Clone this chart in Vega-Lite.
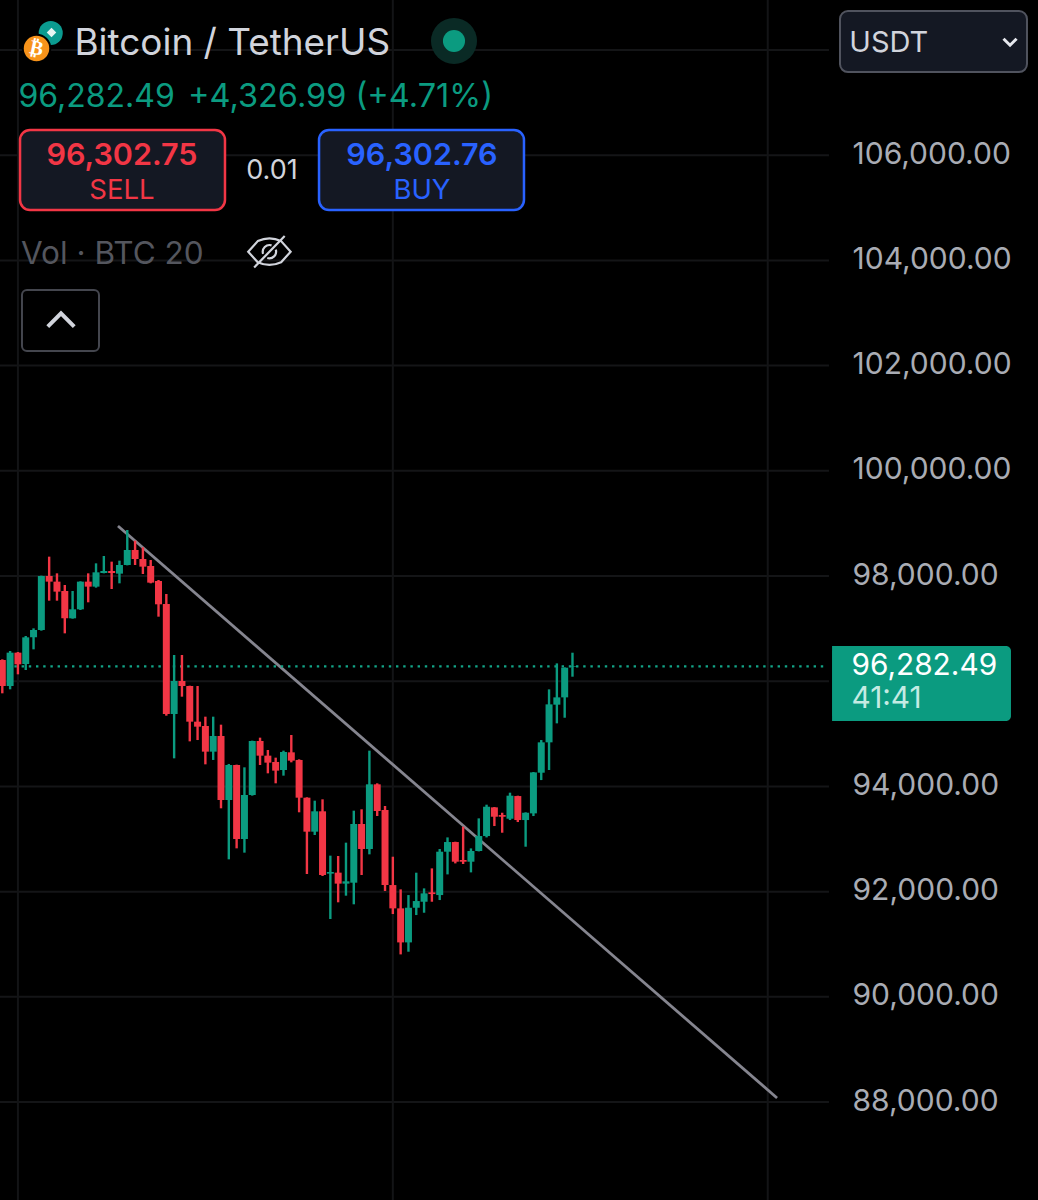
{
  "$schema": "https://vega.github.io/schema/vega-lite/v6.json",
  "autosize": {"type": "none"},
  "width": 1038,
  "height": 1200,
  "padding": 0,
  "background": "#000000",
  "config": {
    "font": "Inter",
    "view": {"stroke": null},
    "axis": {"title": null}
  },
  "data": {"values": [{}]},
  "resolve": {"axis": {"y": "independent"}},
  "datasets": {
    "levels": [
      {"price": 88000}, {"price": 90000}, {"price": 92000}, {"price": 94000}, {"price": 96000},
      {"price": 98000}, {"price": 100000}, {"price": 102000}, {"price": 104000}, {"price": 106000}, {"price": 108000}
    ],
    "sessions": [{"bar": 2}, {"bar": 50}, {"bar": 98}],
    "trendline": [{"bar": 14.81, "price": 98951}, {"bar": 99.19, "price": 88077}],
    "candles": [
      {"bar":0,"open":96403,"high":96416,"low":95770,"close":95909},
      {"bar":1,"open":95909,"high":96575,"low":95846,"close":96543},
      {"bar":2,"open":96543,"high":96555,"low":96131,"close":96321},
      {"bar":3,"open":96327,"high":96860,"low":96213,"close":96834},
      {"bar":4,"open":96834,"high":97005,"low":96606,"close":96974},
      {"bar":5,"open":96974,"high":98007,"low":96961,"close":98000},
      {"bar":6,"open":98000,"high":98368,"low":97531,"close":97893},
      {"bar":7,"open":97893,"high":98051,"low":97531,"close":97703},
      {"bar":8,"open":97715,"high":97829,"low":96910,"close":97196},
      {"bar":9,"open":97196,"high":97715,"low":97189,"close":97367},
      {"bar":10,"open":97367,"high":97899,"low":97354,"close":97893},
      {"bar":11,"open":97893,"high":98051,"low":97500,"close":97798},
      {"bar":12,"open":97798,"high":98241,"low":97779,"close":98070},
      {"bar":13,"open":98057,"high":98381,"low":98051,"close":98095},
      {"bar":14,"open":98095,"high":98273,"low":97753,"close":98057},
      {"bar":15,"open":98045,"high":98292,"low":97861,"close":98209},
      {"bar":16,"open":98209,"high":98875,"low":98203,"close":98495},
      {"bar":17,"open":98495,"high":98672,"low":98209,"close":98323},
      {"bar":18,"open":98323,"high":98545,"low":98038,"close":98178},
      {"bar":19,"open":98190,"high":98304,"low":97861,"close":97874},
      {"bar":20,"open":97905,"high":97924,"low":97227,"close":97462},
      {"bar":21,"open":97468,"high":97658,"low":95345,"close":95377},
      {"bar":22,"open":95377,"high":96499,"low":94534,"close":96004},
      {"bar":23,"open":96004,"high":96499,"low":95706,"close":95909},
      {"bar":24,"open":95909,"high":95915,"low":94857,"close":95231},
      {"bar":25,"open":95231,"high":95909,"low":94882,"close":95136},
      {"bar":26,"open":95149,"high":95326,"low":94420,"close":94661},
      {"bar":27,"open":94661,"high":95326,"low":94503,"close":94959},
      {"bar":28,"open":94959,"high":95174,"low":93584,"close":93742},
      {"bar":29,"open":93742,"high":94427,"low":92614,"close":94407},
      {"bar":30,"open":94407,"high":94414,"low":92823,"close":93001},
      {"bar":31,"open":93001,"high":94363,"low":92741,"close":93837},
      {"bar":32,"open":93837,"high":94870,"low":93825,"close":94864},
      {"bar":33,"open":94864,"high":94927,"low":94407,"close":94585},
      {"bar":34,"open":94585,"high":94693,"low":94249,"close":94452},
      {"bar":35,"open":94465,"high":94547,"low":94059,"close":94300},
      {"bar":36,"open":94312,"high":94680,"low":94205,"close":94655},
      {"bar":37,"open":94648,"high":94978,"low":94458,"close":94490},
      {"bar":38,"open":94503,"high":94515,"low":93508,"close":93786},
      {"bar":39,"open":93786,"high":93793,"low":92335,"close":93140},
      {"bar":40,"open":93140,"high":93729,"low":93077,"close":93527},
      {"bar":41,"open":93527,"high":93755,"low":92297,"close":92316},
      {"bar":42,"open":92342,"high":92684,"low":91480,"close":92373},
      {"bar":43,"open":92361,"high":92677,"low":91797,"close":92152},
      {"bar":44,"open":92152,"high":92931,"low":91923,"close":92196},
      {"bar":45,"open":92170,"high":93539,"low":91759,"close":93286},
      {"bar":46,"open":93286,"high":93565,"low":92316,"close":92811},
      {"bar":47,"open":92811,"high":94680,"low":92709,"close":94040},
      {"bar":48,"open":94040,"high":94059,"low":93438,"close":93533},
      {"bar":49,"open":93552,"high":93628,"low":92012,"close":92126},
      {"bar":50,"open":92125,"high":92664,"low":91574,"close":91682},
      {"bar":51,"open":91682,"high":92043,"low":90807,"close":91035},
      {"bar":52,"open":91035,"high":91935,"low":90858,"close":91694},
      {"bar":53,"open":91694,"high":92360,"low":91555,"close":91821},
      {"bar":54,"open":91808,"high":92062,"low":91599,"close":91967},
      {"bar":55,"open":91986,"high":92442,"low":91808,"close":91954},
      {"bar":56,"open":91935,"high":92810,"low":91840,"close":92759},
      {"bar":57,"open":92759,"high":93031,"low":92328,"close":92943},
      {"bar":58,"open":92943,"high":92949,"low":92537,"close":92569},
      {"bar":59,"open":92601,"high":93234,"low":92525,"close":92569},
      {"bar":60,"open":92569,"high":92822,"low":92366,"close":92772},
      {"bar":61,"open":92772,"high":93393,"low":92765,"close":93057},
      {"bar":62,"open":93057,"high":93653,"low":93031,"close":93614},
      {"bar":63,"open":93602,"high":93608,"low":93247,"close":93424},
      {"bar":64,"open":93456,"high":93500,"low":93120,"close":93424},
      {"bar":65,"open":93386,"high":93881,"low":93361,"close":93824},
      {"bar":66,"open":93817,"high":93824,"low":93323,"close":93361},
      {"bar":67,"open":93361,"high":93507,"low":92854,"close":93500},
      {"bar":68,"open":93488,"high":94274,"low":93437,"close":94267},
      {"bar":69,"open":94261,"high":94882,"low":94121,"close":94838},
      {"bar":70,"open":94838,"high":95845,"low":94312,"close":95560},
      {"bar":71,"open":95554,"high":96339,"low":95199,"close":95693},
      {"bar":72,"open":95693,"high":96263,"low":95306,"close":96257},
      {"bar":73,"open":96270,"high":96542,"low":96086,"close":96282.49}
    ]
  },
  "layer": [
    {
      "data": {"name": "levels"},
      "mark": {"type": "rule", "color": "#141517", "strokeWidth": 2},
      "encoding": {
        "x": {"datum": -0.2945, "type": "quantitative", "axis": null, "scale": {"domain": [-0.2945, 132.6], "nice": false, "zero": false, "padding": 0}},
        "x2": {"datum": 105.84},
        "y": {
          "field": "price",
          "type": "quantitative",
          "scale": {"domain": [86138, 108950], "nice": false, "zero": false, "padding": 0},
          "axis": {
            "orient": "right",
            "offset": -186,
            "values": [88000, 90000, 92000, 94000, 98000, 100000, 102000, 104000, 106000],
            "format": ",.2f",
            "grid": false,
            "domain": false,
            "ticks": false,
            "tickSize": 0,
            "labelPadding": 0,
            "labelOffset": -1,
            "labelFontSize": 30,
            "labelColor": "#a9acb4",
            "labelAlign": "left",
            "labelBaseline": "middle",
            "labelOverlap": false,
            "labelFlush": false
          }
        }
      }
    },
    {
      "data": {"name": "sessions"},
      "mark": {"type": "rule", "color": "#131416", "strokeWidth": 2},
      "encoding": {
        "x": {"field": "bar", "type": "quantitative", "axis": null}
      }
    },
    {
      "data": {"name": "trendline"},
      "mark": {"type": "line", "color": "#85858f", "strokeWidth": 2.8},
      "encoding": {
        "x": {"field": "bar", "type": "quantitative", "axis": null},
        "y": {"field": "price", "type": "quantitative", "axis": null}
      }
    },
    {
      "mark": {"type": "rule", "color": "#12a487", "strokeWidth": 2.2, "strokeDash": [2.4, 4.8]},
      "encoding": {
        "x": {"datum": -0.2945, "type": "quantitative", "axis": null},
        "x2": {"datum": 105.7},
        "y": {"datum": 96282.49, "type": "quantitative", "axis": null}
      }
    },
    {
      "data": {"name": "candles"},
      "mark": {"type": "rule", "strokeWidth": 2.4},
      "encoding": {
        "x": {"field": "bar", "type": "quantitative", "axis": null},
        "y": {"field": "low", "type": "quantitative", "axis": null},
        "y2": {"field": "high"},
        "color": {"condition": {"test": "datum.close >= datum.open", "value": "#0b9b80"}, "value": "#f23645"}
      }
    },
    {
      "data": {"name": "candles"},
      "mark": {"type": "bar", "size": 7, "orient": "vertical"},
      "encoding": {
        "x": {"field": "bar", "type": "quantitative", "axis": null},
        "y": {"field": "open", "type": "quantitative", "axis": null},
        "y2": {"field": "close"},
        "color": {"condition": {"test": "datum.close >= datum.open", "value": "#0b9b80"}, "value": "#f23645"}
      }
    },
    {
      "mark": {"type": "point", "filled": true, "opacity": 1, "color": "#0b9b90", "size": 580},
      "encoding": {
        "x": {"datum": 6.2, "type": "quantitative", "axis": null},
        "y": {"datum": 108323, "type": "quantitative", "axis": null}
      }
    },
    {
      "mark": {"type": "point", "filled": true, "opacity": 1, "shape": "diamond", "color": "#e8f5f3", "size": 90},
      "encoding": {
        "x": {"datum": 6.3, "type": "quantitative", "axis": null},
        "y": {"datum": 108330, "type": "quantitative", "axis": null}
      }
    },
    {
      "mark": {"type": "point", "filled": true, "opacity": 1, "color": "#f7931a", "size": 755, "stroke": "#000000", "strokeWidth": 2},
      "encoding": {
        "x": {"datum": 4.38, "type": "quantitative", "axis": null},
        "y": {"datum": 108028, "type": "quantitative", "axis": null}
      }
    },
    {
      "mark": {"type": "text", "font": "DejaVu Sans", "fontWeight": "bold", "fontSize": 20, "color": "#ffffff", "align": "center", "baseline": "middle", "angle": 12},
      "encoding": {
        "x": {"datum": 4.38, "type": "quantitative", "axis": null},
        "y": {"datum": 108028, "type": "quantitative", "axis": null},
        "text": {"value": "₿"}
      }
    },
    {
      "mark": {"type": "text", "fontSize": 36.9, "color": "#d1d4dc", "align": "left", "baseline": "alphabetic"},
      "encoding": {
        "x": {"datum": 9.24, "type": "quantitative", "axis": null},
        "y": {"datum": 107904, "type": "quantitative", "axis": null},
        "text": {"value": "Bitcoin / TetherUS"}
      }
    },
    {
      "mark": {"type": "point", "filled": true, "opacity": 1, "color": "#0a2a25", "size": 2120},
      "encoding": {
        "x": {"datum": 57.83, "type": "quantitative", "axis": null},
        "y": {"datum": 108171, "type": "quantitative", "axis": null}
      }
    },
    {
      "mark": {"type": "point", "filled": true, "opacity": 1, "color": "#0b9b80", "size": 490},
      "encoding": {
        "x": {"datum": 57.83, "type": "quantitative", "axis": null},
        "y": {"datum": 108171, "type": "quantitative", "axis": null}
      }
    },
    {
      "mark": {"type": "text", "fontSize": 32, "color": "#0b9b80", "align": "left", "baseline": "alphabetic"},
      "encoding": {
        "x": {"datum": 2.07, "type": "quantitative", "axis": null},
        "y": {"datum": 106925, "type": "quantitative", "axis": null},
        "text": {"value": "96,282.49"}
      }
    },
    {
      "mark": {"type": "text", "fontSize": 32.5, "color": "#0b9b80", "align": "left", "baseline": "alphabetic"},
      "encoding": {
        "x": {"datum": 23.78, "type": "quantitative", "axis": null},
        "y": {"datum": 106925, "type": "quantitative", "axis": null},
        "text": {"value": "+4,326.99 (+4.71%)"}
      }
    },
    {
      "mark": {"type": "rect", "color": "#141823", "stroke": "#f23645", "strokeWidth": 2.5, "cornerRadius": 10},
      "encoding": {
        "x": {"datum": 2.27, "type": "quantitative", "axis": null},
        "x2": {"datum": 28.51},
        "y": {"datum": 106479, "type": "quantitative", "axis": null},
        "y2": {"datum": 104958}
      }
    },
    {
      "mark": {"type": "text", "fontSize": 30.5, "fontWeight": 600, "color": "#f23645", "align": "center", "baseline": "alphabetic"},
      "encoding": {
        "x": {"datum": 15.32, "type": "quantitative", "axis": null},
        "y": {"datum": 105813, "type": "quantitative", "axis": null},
        "text": {"value": "96,302.75"}
      }
    },
    {
      "mark": {"type": "text", "fontSize": 27.5, "color": "#f23645", "align": "center", "baseline": "alphabetic"},
      "encoding": {
        "x": {"datum": 15.32, "type": "quantitative", "axis": null},
        "y": {"datum": 105167, "type": "quantitative", "axis": null},
        "text": {"value": "SELL"}
      }
    },
    {
      "mark": {"type": "text", "fontSize": 27, "color": "#d1d4dc", "align": "center", "baseline": "alphabetic"},
      "encoding": {
        "x": {"datum": 34.53, "type": "quantitative", "axis": null},
        "y": {"datum": 105547, "type": "quantitative", "axis": null},
        "text": {"value": "0.01"}
      }
    },
    {
      "mark": {"type": "rect", "color": "#141823", "stroke": "#2962ff", "strokeWidth": 2.5, "cornerRadius": 10},
      "encoding": {
        "x": {"datum": 40.55, "type": "quantitative", "axis": null},
        "x2": {"datum": 66.79},
        "y": {"datum": 106479, "type": "quantitative", "axis": null},
        "y2": {"datum": 104958}
      }
    },
    {
      "mark": {"type": "text", "fontSize": 30.5, "fontWeight": 600, "color": "#2962ff", "align": "center", "baseline": "alphabetic"},
      "encoding": {
        "x": {"datum": 53.73, "type": "quantitative", "axis": null},
        "y": {"datum": 105813, "type": "quantitative", "axis": null},
        "text": {"value": "96,302.76"}
      }
    },
    {
      "mark": {"type": "text", "fontSize": 27.5, "color": "#2962ff", "align": "center", "baseline": "alphabetic"},
      "encoding": {
        "x": {"datum": 53.73, "type": "quantitative", "axis": null},
        "y": {"datum": 105167, "type": "quantitative", "axis": null},
        "text": {"value": "BUY"}
      }
    },
    {
      "mark": {"type": "text", "fontSize": 31.5, "color": "#54565e", "align": "left", "baseline": "alphabetic"},
      "encoding": {
        "x": {"datum": 2.39, "type": "quantitative", "axis": null},
        "y": {"datum": 103931, "type": "quantitative", "axis": null},
        "text": {"value": "Vol · BTC 20"}
      }
    },
    {
      "mark": {"type": "point", "filled": false, "opacity": 1, "color": "#d1d4dc", "strokeWidth": 2.2, "size": 1800, "shape": "M-1,0 L-0.55,-0.5 Q0,-0.75 0.55,-0.5 L1,0 L0.55,0.5 Q0,0.75 -0.55,0.5 Z M-0.72,0.74 L0.72,-0.74 M-0.3,0.1 A0.32,0.32 0 0 1 0.1,-0.3 M0.3,-0.1 A0.32,0.32 0 0 1 -0.1,0.3"},
      "encoding": {
        "x": {"datum": 34.2, "type": "quantitative", "axis": null},
        "y": {"datum": 104165, "type": "quantitative", "axis": null}
      }
    },
    {
      "mark": {"type": "rect", "color": "#000000", "stroke": "#44464e", "strokeWidth": 2, "cornerRadius": 5},
      "encoding": {
        "x": {"datum": 2.52, "type": "quantitative", "axis": null},
        "x2": {"datum": 12.38},
        "y": {"datum": 103437, "type": "quantitative", "axis": null},
        "y2": {"datum": 102277}
      }
    },
    {
      "mark": {"type": "point", "filled": false, "opacity": 1, "color": "#d1d4dc", "strokeWidth": 4, "size": 700, "shape": "M-1,0.5 L0,-0.5 L1,0.5"},
      "encoding": {
        "x": {"datum": 7.515, "type": "quantitative", "axis": null},
        "y": {"datum": 102867, "type": "quantitative", "axis": null}
      }
    },
    {
      "mark": {"type": "rect", "color": "#141823", "stroke": "#50535e", "strokeWidth": 2, "cornerRadius": 8},
      "encoding": {
        "x": {"datum": 107.25, "type": "quantitative", "axis": null},
        "x2": {"datum": 131.19},
        "y": {"datum": 108741, "type": "quantitative", "axis": null},
        "y2": {"datum": 107581}
      }
    },
    {
      "mark": {"type": "text", "fontSize": 29, "color": "#d1d4dc", "align": "left", "baseline": "alphabetic"},
      "encoding": {
        "x": {"datum": 108.45, "type": "quantitative", "axis": null},
        "y": {"datum": 107961, "type": "quantitative", "axis": null},
        "text": {"value": "USDT"}
      }
    },
    {
      "mark": {"type": "point", "filled": false, "opacity": 1, "color": "#e6e8ee", "strokeWidth": 3, "size": 170, "shape": "M-1,-0.5 L0,0.5 L1,-0.5"},
      "encoding": {
        "x": {"datum": 129.02, "type": "quantitative", "axis": null},
        "y": {"datum": 108152, "type": "quantitative", "axis": null}
      }
    },
    {
      "mark": {"type": "rect", "color": "#0b9b80", "cornerRadiusTopRight": 5, "cornerRadiusBottomRight": 5},
      "encoding": {
        "x": {"datum": 106.23, "type": "quantitative", "axis": null},
        "x2": {"datum": 129.14},
        "y": {"datum": 96670, "type": "quantitative", "axis": null},
        "y2": {"datum": 95244}
      }
    },
    {
      "mark": {"type": "text", "fontSize": 29.8, "color": "#ffffff", "align": "left", "baseline": "alphabetic"},
      "encoding": {
        "x": {"datum": 108.72, "type": "quantitative", "axis": null},
        "y": {"datum": 96118, "type": "quantitative", "axis": null},
        "text": {"value": "96,282.49"}
      }
    },
    {
      "mark": {"type": "text", "fontSize": 29.8, "color": "#c4ebe3", "align": "left", "baseline": "alphabetic"},
      "encoding": {
        "x": {"datum": 108.72, "type": "quantitative", "axis": null},
        "y": {"datum": 95491, "type": "quantitative", "axis": null},
        "text": {"value": "41:41"}
      }
    }
  ]
}
